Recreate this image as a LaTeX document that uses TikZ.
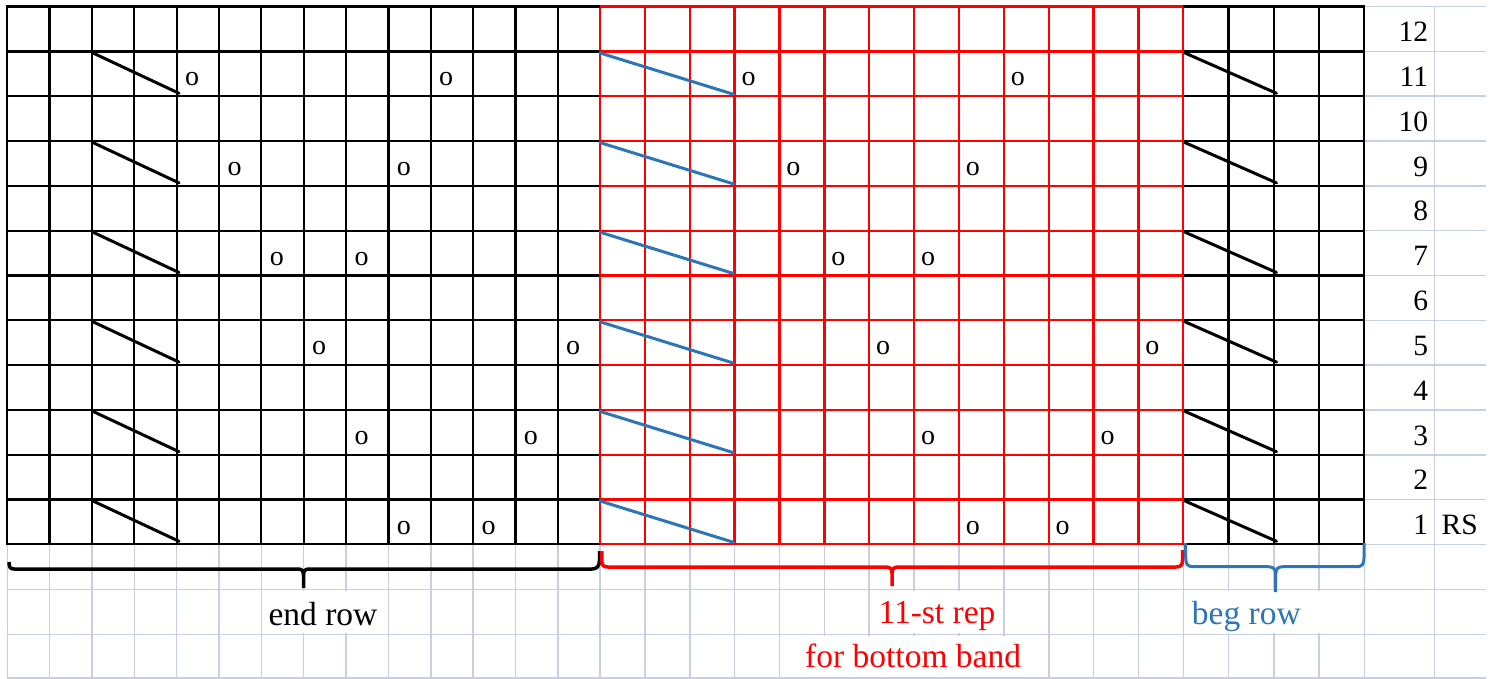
\documentclass[tikz,border=0pt]{standalone}
\usepackage{fontspec}
\setmainfont{Liberation Serif}
\usepackage{graphicx}
\definecolor{gridlt}{RGB}{198,208,226}
\definecolor{xlblue}{RGB}{46,117,182}
\definecolor{xlred}{RGB}{255,0,0}
\tikzset{
  lightgrid/.style={gridlt, line width=1.6pt},
  blkgrid/.style={black, line width=2.3pt},
  redgrid/.style={xlred, line width=2.3pt},
  slantblk/.style={black, line width=3pt, line cap=round},
  slantblu/.style={xlblue, line width=3pt, line cap=round},
  bracestyle/.style={line width=3.5pt, line cap=butt, line join=round},
  yo/.style={inner sep=0pt, anchor=base, font=\fontsize{28}{34}\selectfont},
  rownum/.style={inner sep=0pt, font=\fontsize{29.5}{35}\selectfont},
  lbl/.style={inner sep=0pt, anchor=base west, font=\fontsize{33.5}{40}\selectfont},
}
\begin{document}
\begin{tikzpicture}[x=1pt,y=-1pt]
\useasboundingbox (0,0) rectangle (1497,679);
\fill[white] (0,0) rectangle (1497,679);

% ---------- light spreadsheet grid ----------
\foreach \i in {0,...,12} {
  \draw[lightgrid] (1364.3,{6.7+44.8*\i}) -- (1486,{6.7+44.8*\i});
}
\foreach \yy in {589.3,634.3,678.2} {
  \draw[lightgrid] (7.3,\yy) -- (1486,\yy);
}
\foreach \i in {0,...,14} {
  \draw[lightgrid] ({7.3+42.34*\i},544.3) -- ({7.3+42.34*\i},679);
}
\foreach \i in {1,...,13} {
  \draw[lightgrid] ({600+44.87*\i},544.3) -- ({600+44.87*\i},679);
}
\foreach \i in {1,...,4} {
  \draw[lightgrid] ({1183.3+45.25*\i},544.3) -- ({1183.3+45.25*\i},679);
}
\draw[lightgrid] (1434.3,6.7) -- (1434.3,679);

% cells where overflowing text hides the gridlines
\fill[white] (264,590.6) rectangle (384,633.0);
\fill[white] (874,590.6) rectangle (998,633.0);
\fill[white] (801,635.6) rectangle (1030,677.0);
\fill[white] (1188,590.6) rectangle (1340,633.0);

% ---------- chart grid ----------
% left (end row) section
\foreach \i in {0,...,13} {
  \draw[blkgrid] ({7.3+42.34*\i},6.7) -- ({7.3+42.34*\i},544.3);
}
\foreach \i in {0,...,12} {
  \draw[blkgrid] (6.2,{6.7+44.8*\i}) -- (600,{6.7+44.8*\i});
}
% right (beg row) section
\foreach \i in {1,...,4} {
  \draw[blkgrid] ({1183.3+45.25*\i},6.7) -- ({1183.3+45.25*\i},544.3);
}
\foreach \i in {0,...,12} {
  \draw[blkgrid] (1183.3,{6.7+44.8*\i}) -- (1365.4,{6.7+44.8*\i});
}
% red repeat section
\foreach \i in {0,...,13} {
  \draw[redgrid] ({600+44.87*\i},6.7) -- ({600+44.87*\i},544.3);
}
\foreach \i in {0,...,12} {
  \draw[redgrid] (600,{6.7+44.8*\i}) -- (1183.3,{6.7+44.8*\i});
}
\draw[black, line width=3pt] (6.2,6.7) -- (600,6.7);
\draw[black, line width=3pt] (1183.3,6.7) -- (1365.4,6.7);
\draw[xlred, line width=3pt] (600,6.7) -- (1183.3,6.7);

% ---------- slanted decrease symbols ----------
\foreach \r in {11,9,7,5,3,1} {
  \pgfmathsetmacro\tp{6.7+44.8*(12-\r)}
  \pgfmathsetmacro\bt{\tp+44.8}
  \draw[slantblk] (93,{\tp+1.5}) -- (179,{\bt-3});
  \draw[slantblu] (600,{\tp+1.5}) -- (733.5,{\bt-2});
  \draw[slantblk] (1185,{\tp+1.5}) -- (1276.5,{\bt-3});
}

% ---------- yarn overs ----------
\foreach \r/\a/\b in {11/5/11, 9/6/10, 7/7/9, 5/8/14, 3/9/13, 1/10/12} {
  \pgfmathsetmacro\bt{6.7+44.8*(13-\r)}
  \node[yo] (oL-\r-\a) at ({7.3+42.34*(\a-1)+15.5},{\bt-10.3}) {o};
  \node[yo] (oL-\r-\b) at ({7.3+42.34*(\b-1)+15.5},{\bt-10.3}) {o};
}
\foreach \r/\a/\b in {11/4/10, 9/5/9, 7/6/8, 5/7/13, 3/8/12, 1/9/11} {
  \pgfmathsetmacro\bt{6.7+44.8*(13-\r)}
  \node[yo] (oR-\r-\a) at ({600+44.87*(\a-1)+14},{\bt-10.3}) {o};
  \node[yo] (oR-\r-\b) at ({600+44.87*(\b-1)+14},{\bt-10.3}) {o};
}

% ---------- row numbers ----------
\foreach \r in {1,...,12} {
  \node[rownum, anchor=base east] (n\r) at (1428.3,{6.7+44.8*(13-\r)-9.7}) {\r};
}
\node[rownum, anchor=base west] (rs) at (1441.5,534.7) {RS};

% ---------- braces ----------
\draw[bracestyle, black]
  (9,562) .. controls (9,567) and (10,569) .. (14,569) -- (298,569)
  .. controls (302,569) and (303.5,571) .. (303.5,575) -- (303.5,588);
\draw[bracestyle, black]
  (303.5,575) .. controls (303.5,571) and (305,569) .. (309,569) -- (592,569)
  .. controls (597,569) and (599.5,566) .. (599.5,560) -- (599.5,551);
\draw[bracestyle, xlred]
  (601.8,551) -- (601.8,560) .. controls (601.8,565) and (603,567) .. (608,567)
  -- (886,567) .. controls (890,567) and (892,569) .. (892,573) -- (892,586);
\draw[bracestyle, xlred]
  (892,573) .. controls (892,569) and (894,567) .. (898,567) -- (1176,567)
  .. controls (1181,567) and (1182.5,565) .. (1182.5,560) -- (1182.5,550);
\draw[bracestyle, xlblue, line width=3pt]
  (1185.7,543) -- (1185.7,558) .. controls (1185.7,564) and (1187.5,566.7) .. (1193,566.7)
  -- (1268,566.7) .. controls (1273,566.7) and (1275.7,569) .. (1275.7,574) -- (1275.7,592);
\draw[bracestyle, xlblue, line width=3pt]
  (1275.7,574) .. controls (1275.7,569) and (1278,566.7) .. (1283,566.7) -- (1357,566.7)
  .. controls (1362,566.7) and (1364,564) .. (1364,558) -- (1364,543);

% ---------- labels ----------
\node[lbl, black] (endrow) at (268.3,625) {end row};
\node[lbl, xlred] (rep) at (878.3,623.5) {11-st rep};
\node[lbl, xlred] (band) at (805,667) {for bottom band};
\node[lbl, xlblue] (begrow) at (1191.7,624) {beg row};
\end{tikzpicture}
\end{document}
